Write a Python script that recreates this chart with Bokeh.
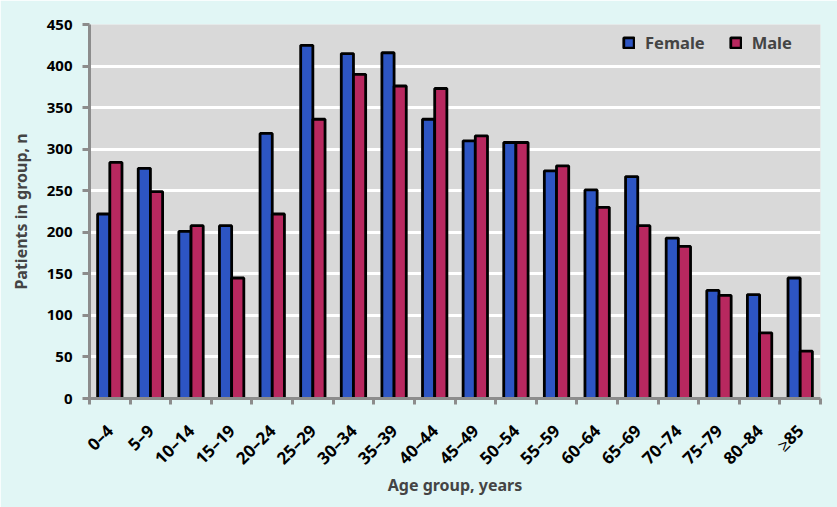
import math
from bokeh.plotting import figure
from bokeh.models import FixedTicker, ColumnDataSource, Legend, LegendItem, Range1d
from bokeh.embed import file_html
from bokeh.resources import INLINE

categories = ["0\u20134", "5\u20139", "10\u201314", "15\u201319", "20\u201324", "25\u201329", "30\u201334",
              "35\u201339", "40\u201344", "45\u201349", "50\u201354", "55\u201359", "60\u201364", "65\u201369",
              "70\u201374", "75\u201379", "80\u201384", "\u226585"]
female = [222, 277, 201, 208, 319, 425, 415, 416, 336, 310, 308, 274, 251, 267, 193, 130, 125, 145]
male = [284, 249, 208, 145, 222, 336, 390, 376, 373, 316, 308, 280, 230, 208, 183, 124, 79, 57]
y_ticks = [0, 50, 100, 150, 200, 250, 300, 350, 400, 450]

FONT = "Noto Sans"
BLUE = "#2D55C3"
MAGENTA = "#B8285F"
AXIS = "#8C8C8C"
BG = "#E1F6F5"

n = len(categories)
idx = list(range(n))
bw = 0.3

src = ColumnDataSource(dict(
    xf=[i - bw / 2 for i in idx], xm=[i + bw / 2 for i in idx], female=female, male=male))

p = figure(width=837, height=507, output_backend="svg", toolbar_location=None,
           x_range=Range1d(-0.5, n - 0.5), y_range=Range1d(0, 450),
           min_border_left=89, min_border_right=17, min_border_top=24, min_border_bottom=109)
p.border_fill_color = BG
p.background_fill_color = "#D9D9D9"
p.outline_line_color = None

rf = p.vbar(x="xf", top="female", width=bw, source=src, fill_color=BLUE, line_color="black", line_width=2.8)
rm = p.vbar(x="xm", top="male", width=bw, source=src, fill_color=MAGENTA, line_color="black", line_width=2.8)

p.xgrid.grid_line_color = None
p.ygrid.grid_line_color = "white"
p.ygrid.grid_line_width = 3

# y axis
p.yaxis.ticker = FixedTicker(ticks=y_ticks)
p.yaxis.axis_line_color = AXIS
p.yaxis.axis_line_width = 3
p.yaxis.major_tick_line_color = AXIS
p.yaxis.major_tick_line_width = 3
p.yaxis.major_tick_out = 7
p.yaxis.major_tick_in = 0
p.yaxis.minor_tick_line_color = None
p.yaxis.major_label_text_font = FONT
p.yaxis.major_label_text_font_style = "bold"
p.yaxis.major_label_text_font_size = "15px"
p.yaxis.major_label_text_color = "black"
p.yaxis.major_label_standoff = 10
p.yaxis.axis_label = "Patients in group, n"
p.yaxis.axis_label_text_font = FONT
p.yaxis.axis_label_text_font_style = "bold"
p.yaxis.axis_label_text_font_size = "16px"
p.yaxis.axis_label_standoff = 12

# x axis
p.xaxis.ticker = FixedTicker(ticks=idx, minor_ticks=[i - 0.5 for i in range(n + 1)])
p.xaxis.major_label_overrides = {i: c for i, c in zip(idx, categories)}
p.xaxis.axis_line_color = AXIS
p.xaxis.axis_line_width = 3
p.xaxis.major_tick_line_color = None
p.xaxis.major_tick_out = 0
p.xaxis.major_tick_in = 0
p.xaxis.minor_tick_line_color = AXIS
p.xaxis.minor_tick_line_width = 3
p.xaxis.minor_tick_out = 6
p.xaxis.minor_tick_in = 0
p.xaxis.major_label_orientation = math.pi / 4
p.xaxis.major_label_text_font = FONT
p.xaxis.major_label_text_font_style = "bold"
p.xaxis.major_label_text_font_size = "17px"
p.xaxis.major_label_text_color = "black"
p.xaxis.major_label_standoff = 23
p.xaxis.axis_label = "Age group, years"
p.xaxis.axis_label_text_font = FONT
p.xaxis.axis_label_text_font_style = "bold"
p.xaxis.axis_label_text_font_size = "16px"
p.xaxis.axis_label_standoff = -6

legend = Legend(items=[LegendItem(label="Female", renderers=[rf]),
                       LegendItem(label="Male", renderers=[rm])],
                orientation="horizontal", location=(533, 344))
legend.background_fill_alpha = 0
legend.border_line_color = None
legend.label_text_font = FONT
legend.label_text_font_style = "bold"
legend.label_text_font_size = "16.5px"
legend.glyph_width = 13
legend.glyph_height = 13
legend.spacing = 24
legend.label_standoff = 10
p.add_layout(legend)

open("out.html", "w").write(file_html(p, INLINE))
